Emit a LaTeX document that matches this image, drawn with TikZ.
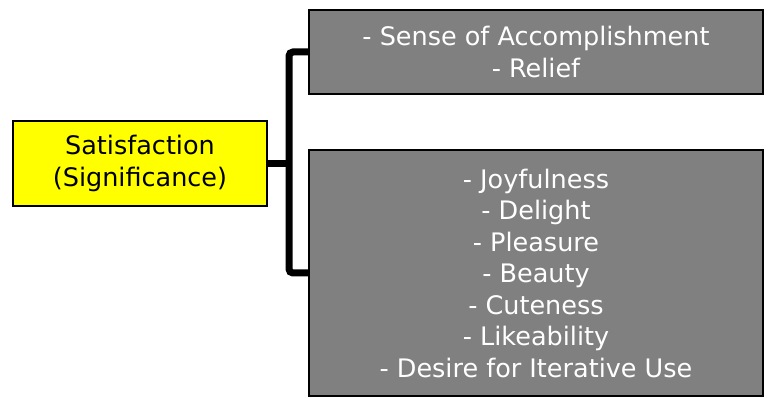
\documentclass[tikz,border=0pt]{standalone}
\usepackage{fontspec}
\setmainfont{DejaVu Sans}
\definecolor{boxgray}{HTML}{808080}
\definecolor{rootyellow}{HTML}{FFFF00}
\begin{document}
\begin{tikzpicture}[x=1pt,y=-1pt,
  box/.style={draw=black, line width=1.2pt, inner sep=0pt, align=center,
    font=\fontsize{25.5}{31.5}\selectfont},
  rootbox/.style={box, fill=rootyellow, text=black, minimum width=254pt, minimum height=85pt},
  leafbox/.style={box, fill=boxgray, text=white, minimum width=454pt},
  bus/.style={line width=7pt, rounded corners=4pt}]
\useasboundingbox (0,0) rectangle (769,398);
\node[rootbox] (sat) at (140,163.5) {Satisfaction\\(Significance)};
\node[leafbox, minimum height=84pt] (top) at (536,52) {- Sense of Accomplishment\\- Relief};
\node[leafbox, minimum height=246pt] (bot) at (536,273)
  {- Joyfulness\\- Delight\\- Pleasure\\- Beauty\\- Cuteness\\- Likeability\\- Desire for Iterative Use};
\coordinate (busx) at (289,0);
\draw[bus] (top.west) -| (busx |- bot.west) -- (bot.west);
\draw[line width=7pt] (sat.east) -- (busx |- sat.east);
\end{tikzpicture}
\end{document}
